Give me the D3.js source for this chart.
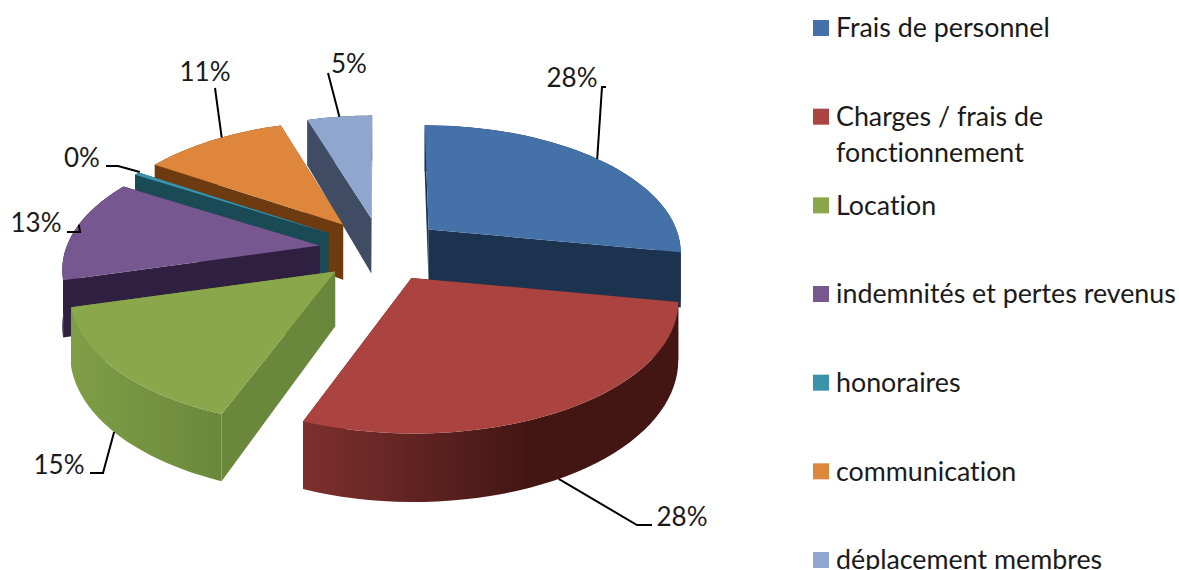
<!DOCTYPE html>
<html>
<head>
<meta charset="utf-8">
<script src="https://cdn.jsdelivr.net/npm/d3@7"></script>
<style>
  html, body { margin: 0; padding: 0; background: #fff; }
  text { font-family: Lato, "Open Sans", sans-serif; fill: #1a1a1a; font-variant-ligatures: none; }
</style>
</head>
<body>
<div id="chart"></div>
<script>
// data
const categories = ["Frais de personnel", "Charges / frais de fonctionnement", "Location", "indemnités et pertes revenus", "honoraires", "communication", "déplacement membres"];
const values = [28, 28, 15, 13, 0.4, 11, 5];
const valueLabels = ["28%", "28%", "15%", "13%", "0%", "11%", "5%"];
const topColors = ["#4371a8", "#ab4441", "#8aa84b", "#77578f", "#3a93ab", "#dd863c", "#8fa7cf"];
const wallColors = ["#1c3350", "#4d1b19", "#6a883c", "#2f1f40", "#1a4a55", "#6e3a10", "#3f4c63"];
const rimColors = [["#1c3350", "#1c3350"], ["#7d302e", "#431614"], ["#7f9e46", "#6a883c"], ["#2f1f40", "#2f1f40"], ["#1a4a55", "#1a4a55"], ["#6e3a10", "#6e3a10"], ["#3f4c63", "#3f4c63"]];

// label layout, one row per slice: text centre, where the leader leaves the slice and its bends
const labelLayout = [
  {x: 572, y: 78, angle: 50, bends: [[602, 87], [606, 87]]},
  {x: 682, y: 517, angle: 152, bends: [[637, 525], [652, 525]], drop: true},
  {x: 59, y: 465, angle: 228, bends: [[103, 473], [90, 473]], drop: true},
  {x: 36, y: 223, angle: 280, bends: [[80, 232], [67, 232]]},
  {x: 82, y: 158, angle: 303, bends: [[118, 166], [106, 166]]},
  {x: 205, y: 72, angle: 325, bends: [[215, 88]]},
  {x: 349, y: 64, angle: 351, bends: [[328, 73]]}
];
// back to front
const drawOrder = [6, 0, 5, 4, 3, 2, 1];

const width = 1179, height = 570;
const svg = d3.select("#chart").append("svg")
    .attr("width", width)
    .attr("height", height)
    .style("display", "block");
const defs = svg.append("defs");

// pie plane -> screen, with the perspective making the front bigger
const persp = 0.17, depth = 55, shear = 0.083;
const xScale = d3.scaleLinear().domain([-1, 1]).range([-254, 254]);
const yScale = d3.scaleLinear().domain([-1, 1]).range([-125, 125]);
const explodeX = d3.scaleLinear().domain([-1, 1]).range([381 - 62, 381 + 62]);
const explodeY = d3.scaleLinear().domain([-1, 1]).range([250 - 32, 250 + 32]);

// slices pulled toward the viewer also come out a bit bigger,
// and lines going back lean toward the middle of the view
function project(d, a) {
  const px = Math.sin(a), py = -Math.cos(a), s = (1 + 0.0012 * (d.cy - 250)) / (1 - persp * py);
  return {x: xScale(px) * s + (d.cx - 381) * py * shear, y: yScale(py) * s, s: s};
}

const arcs = d3.pie().sort(null).startAngle(0).endAngle(2 * Math.PI)(values);
const line = d3.line().x(d => d[0]).y(d => d[1]);

arcs.forEach((d, i) => {
  const mid = (d.startAngle + d.endAngle) / 2;
  d.cx = explodeX(Math.sin(mid));
  d.cy = explodeY(-Math.cos(mid));
  d.rim = d3.range(0, 41).map(k => {
    const p = project(d, d.startAngle + (d.endAngle - d.startAngle) * k / 40);
    return [d.cx + p.x, d.cy + p.y, depth * p.s];
  });
  const grad = defs.append("linearGradient")
      .attr("id", "rim" + i)
      .attr("gradientUnits", "userSpaceOnUse")
      .attr("x1", d3.min(d.rim, r => r[0])).attr("x2", d3.max(d.rim, r => r[0]))
      .attr("y1", 0).attr("y2", 0);
  grad.append("stop").attr("offset", "0").attr("stop-color", rimColors[i][0]);
  grad.append("stop").attr("offset", i == 1 ? "0.6" : "1").attr("stop-color", rimColors[i][1]);
});

// slices
drawOrder.forEach(i => {
  const d = arcs[i];
  const g = svg.append("g").attr("class", "slice");
  const first = d.rim[0], last = d.rim[d.rim.length - 1];
  // the two cut walls
  [first, last].forEach(r => {
    g.append("path")
      .attr("d", line([[d.cx, d.cy], [r[0], r[1]], [r[0], r[1] + r[2]], [d.cx, d.cy + depth]]) + "Z")
      .attr("fill", wallColors[i]);
  });
  // outer wall
  const rimBottom = d.rim.map(r => [r[0], r[1] + r[2]]).reverse();
  g.append("path")
    .attr("d", line(d.rim.map(r => [r[0], r[1]]).concat(rimBottom)) + "Z")
    .attr("fill", `url(#rim${i})`);
  // top face
  g.append("path")
    .attr("d", line([[d.cx, d.cy]].concat(d.rim.map(r => [r[0], r[1]]))) + "Z")
    .attr("fill", topColors[i]);
});

// leader lines and value labels
labelLayout.forEach((l, i) => {
  const d = arcs[i];
  const p = project(d, l.angle * Math.PI / 180);
  const start = [d.cx + p.x, d.cy + p.y + (l.drop ? depth * p.s : 0)];
  svg.append("path")
    .attr("d", line([start].concat(l.bends)))
    .attr("fill", "none")
    .attr("stroke", "#000")
    .attr("stroke-width", 2);
  svg.append("text")
    .attr("x", l.x)
    .attr("y", l.y)
    .attr("dy", "0.35em")
    .attr("text-anchor", "middle")
    .attr("font-size", 26)
    .text(valueLabels[i]);
});

// legend
const legendY = d3.scalePoint().domain(categories).range([28, 560]);
const legendLines = {"Charges / frais de fonctionnement": ["Charges / frais de", "fonctionnement"]};
const legend = svg.append("g").selectAll("g")
  .data(categories)
  .join("g")
    .attr("transform", d => `translate(813,${legendY(d)})`);
legend.append("rect")
    .attr("y", -8)
    .attr("width", 16)
    .attr("height", 16)
    .attr("fill", (d, i) => topColors[i]);
legend.append("text")
    .attr("font-size", 26.8)
    .selectAll("tspan")
    .data(d => legendLines[d] || [d])
    .join("tspan")
    .attr("x", 23)
    .attr("y", (d, i) => i * 36)
    .attr("dy", "0.35em")
    .text(d => d);
</script>
</body>
</html>
